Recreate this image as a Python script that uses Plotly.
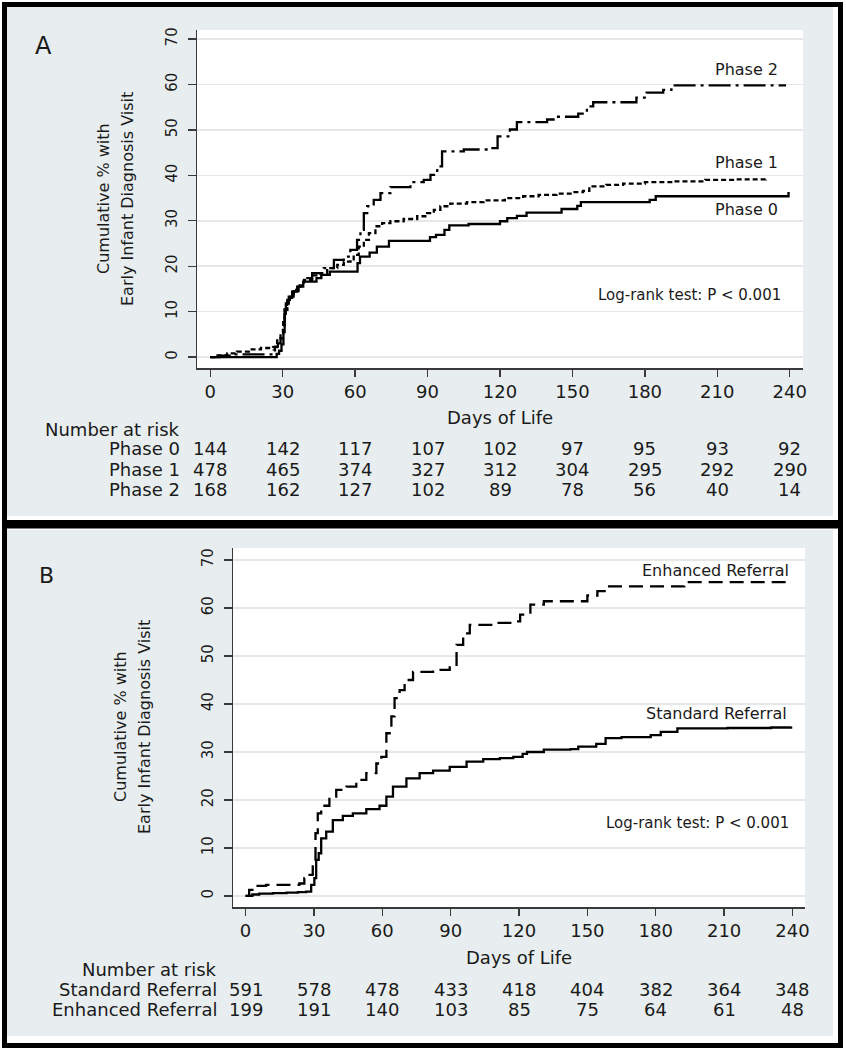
import plotly.graph_objects as go

W, H = 846, 1050
FONT = "DejaVu Sans"
TXT = "#1a1a1a"
AX = "#3a3a3a"
BG = "#e8eef0"
GRID = "#e4e8e8"

def PX(x):
    return x / W

def PY(y):
    return 1 - y / H

# ---------------- data: panel A ----------------
p0_t = [0, 27.5, 28.5, 29.5, 30.3, 30.8, 31.3, 32.5, 34.5, 36.5, 38.5, 44, 46, 49.5, 61, 62, 66, 69, 74,
        91, 93.5, 97, 99, 107, 120, 123, 127, 131, 145.5, 152, 153.5, 182, 184.5, 239.5, 240]
p0_v = [0, 0.7, 1.4, 2.8, 5.5, 9.5, 11.8, 13.3, 14.5, 15.5, 16.6, 17.4, 18.1, 18.8, 20.7, 22.1, 23.0, 24.3, 25.6,
        26.4, 26.9, 28.0, 29.0, 29.3, 29.9, 30.6, 31.1, 31.8, 32.6, 33.3, 34.1, 34.6, 35.4, 36.1, 36.1]

p1_t = [0, 3, 7, 11, 16, 21, 26, 27.7, 29.1, 30.2, 30.8, 31.9, 33, 34.6, 36.5, 38.8, 42.2, 45.7, 48.4, 52.6,
        55.3, 58.1, 59.4, 61.5, 63.6, 65.7, 68.4, 71.2, 74.6, 80.1, 85.7, 89.8, 92.6, 95.3, 99.4, 106.3, 113.2,
        122, 129.6, 136, 143.4, 150, 154.4, 157, 164, 171, 180, 191.5, 205, 218, 230]
p1_v = [0, 0.4, 0.8, 1.2, 1.7, 2.0, 2.2, 3.7, 5.2, 8.5, 10.5, 12.6, 13.8, 14.8, 15.8, 17.0, 18.0, 18.5, 19.6, 20.3,
        21.0, 21.5, 22.5, 24.3, 25.8, 27.3, 28.8, 29.5, 29.9, 30.4, 31.0, 31.7, 32.4, 33.2, 33.8, 34.1, 34.5,
        35.0, 35.4, 35.7, 36.0, 36.3, 36.6, 37.6, 37.9, 38.2, 38.5, 38.7, 39.0, 39.1, 39.2]

p2_t = [0, 4, 8, 26, 26.3, 26.8, 28, 29.1, 30.1, 30.8, 31.9, 33.9, 36, 38.8, 42.2, 47, 51.2, 55.3, 58, 60.8,
        62.2, 63.6, 65, 67.7, 70.5, 74.6, 82.9, 88.4, 91.2, 94, 96, 105, 115, 119, 124.1, 127, 139.5, 143.5,
        152.4, 156, 158.6, 176.5, 180.7, 187.6, 191, 238.5]
p2_v = [0, 0.3, 0.6, 0.6, 1.5, 2.3, 3.0, 4.1, 6.0, 10.4, 12.6, 14.4, 15.5, 17.4, 18.5, 19.6, 21.4, 22.1, 23.6, 25.8,
        28.0, 31.7, 33.2, 34.6, 36.1, 37.4, 38.5, 39.0, 40.1, 42.0, 45.3, 45.7, 46.0, 48.6, 50.1, 51.7, 52.3, 52.9,
        53.6, 55.2, 56.1, 57.1, 58.2, 58.8, 59.8, 59.8]

# ---------------- data: panel B ----------------
std_t = [0, 3, 6, 12, 18, 23, 26.6, 28.8, 30.2, 31, 32.1, 33.2, 35.4, 38.3, 42.7, 47.1, 53, 58.8, 61.8, 64.7,
         70.6, 76.4, 82.3, 89.6, 97, 104.3, 111.6, 117.5, 121.6, 123.5, 130.9, 142.6, 146, 153.9, 158, 165,
         177.8, 182.2, 189.5, 211.5, 230.6, 239.4]
std_v = [0, 0.3, 0.5, 0.6, 0.7, 0.8, 0.9, 2.3, 3.7, 7.5, 8.9, 12.0, 13.4, 15.8, 16.7, 17.2, 18.1, 18.8, 20.7, 22.8,
         24.5, 25.6, 26.1, 26.9, 28.0, 28.5, 28.7, 29.0, 29.6, 30.0, 30.5, 30.6, 31.1, 31.7, 32.9, 33.1,
         33.5, 34.2, 34.9, 35.0, 35.1, 35.3]

enh_t = [0, 1.6, 4.5, 9, 23.6, 25.8, 27.3, 29.5, 30.7, 31.7, 33.2, 36.8, 39.8, 44.2, 48.6, 53, 57.4, 59.6, 61.8,
         64, 65.4, 67.6, 69.8, 73.5, 82.3, 89.6, 92.6, 95.5, 98.4, 108.7, 119, 120.5, 125, 130.9, 150, 154.4,
         158.7, 192.5, 239.4]
enh_v = [0, 1.25, 2.1, 2.3, 2.6, 3.7, 4.4, 7.5, 13.1, 17.2, 18.8, 20.7, 22.1, 22.8, 24.2, 25.6, 27.6, 29.0, 33.9,
         37.4, 41.2, 42.9, 45.0, 46.7, 47.1, 47.9, 52.3, 54.7, 56.5, 56.9, 57.2, 58.6, 60.7, 61.4, 62.6, 63.5,
         64.5, 65.4, 65.4]

# ---------------- ticks and risk tables ----------------
x_ticks = [0, 30, 60, 90, 120, 150, 180, 210, 240]
y_ticks = [0, 10, 20, 30, 40, 50, 60, 70]

risk_a_labels = ["Phase 0", "Phase 1", "Phase 2"]
risk_a = [
    [144, 142, 117, 107, 102, 97, 95, 93, 92],
    [478, 465, 374, 327, 312, 304, 295, 292, 290],
    [168, 162, 127, 102, 89, 78, 56, 40, 14],
]
risk_b_labels = ["Standard Referral", "Enhanced Referral"]
risk_b = [
    [591, 578, 478, 433, 418, 404, 382, 364, 348],
    [199, 191, 140, 103, 85, 75, 64, 61, 48],
]

fig = go.Figure()

LW = 2.3
fig.add_trace(go.Scatter(x=p0_t, y=p0_v, mode="lines", line=dict(color="black", width=LW, shape="hv"),
                         xaxis="x", yaxis="y", name="Phase 0"))
fig.add_trace(go.Scatter(x=p1_t, y=p1_v, mode="lines",
                         line=dict(color="black", width=LW, shape="hv", dash="5px,3px"),
                         xaxis="x", yaxis="y", name="Phase 1"))
fig.add_trace(go.Scatter(x=p2_t, y=p2_v, mode="lines",
                         line=dict(color="black", width=LW, shape="hv", dash="22px,5px,3px,5px"),
                         xaxis="x", yaxis="y", name="Phase 2"))
fig.add_trace(go.Scatter(x=std_t, y=std_v, mode="lines", line=dict(color="black", width=LW, shape="hv"),
                         xaxis="x2", yaxis="y2", name="Standard Referral"))
fig.add_trace(go.Scatter(x=enh_t, y=enh_v, mode="lines",
                         line=dict(color="black", width=LW, shape="hv", dash="14px,7px"),
                         xaxis="x2", yaxis="y2", name="Enhanced Referral"))

def xaxis_cfg(domain, anchor):
    return dict(domain=domain, anchor=anchor, range=[-5.5, 245.5], tickvals=x_ticks,
                ticks="outside", ticklen=7, tickwidth=1.3, tickcolor=AX,
                showline=True, linecolor=AX, linewidth=1.5, showgrid=False, zeroline=False,
                tickfont=dict(family=FONT, size=18, color=TXT), fixedrange=True, automargin=False)

def yaxis_cfg(domain, anchor, rng):
    return dict(domain=domain, anchor=anchor, range=rng, tickvals=y_ticks, tickangle=-90,
                ticks="outside", ticklen=8, tickwidth=1.3, tickcolor=AX,
                showline=True, linecolor=AX, linewidth=1.5, showgrid=True, gridcolor=GRID,
                gridwidth=1.5, zeroline=False, ticklabelstandoff=5,
                tickfont=dict(family=FONT, size=15, color=TXT), fixedrange=True, automargin=False)

fig.update_layout(
    width=W, height=H, margin=dict(l=0, r=0, t=0, b=0, pad=0),
    paper_bgcolor="white", plot_bgcolor="white", showlegend=False,
    xaxis=xaxis_cfg([PX(197), PX(803)], "y"),
    yaxis=yaxis_cfg([PY(368), PY(30)], "x", [-2.4, 72]),
    xaxis2=xaxis_cfg([PX(233), PX(805)], "y2"),
    yaxis2=yaxis_cfg([PY(907), PY(548)], "x2", [-2.3, 72.5]),
)

shapes = []
# gray graph regions
for (x0, y0, x1, y1) in [(7, 7, 833, 516), (7, 530, 833, 1036)]:
    shapes.append(dict(type="rect", xref="paper", yref="paper", x0=PX(x0), x1=PX(x1), y0=PY(y1), y1=PY(y0),
                       fillcolor=BG, line=dict(width=0), layer="below"))
# white plot regions
for (x0, y0, x1, y1) in [(197, 30, 803, 368), (233, 548, 805, 907)]:
    shapes.append(dict(type="rect", xref="paper", yref="paper", x0=PX(x0), x1=PX(x1), y0=PY(y1), y1=PY(y0),
                       fillcolor="white", line=dict(width=0), layer="below"))
# black frames
for (x0, y0, x1, y1) in [(4.5, 4.5, 840.5, 522.5), (4.5, 526, 840.5, 1045.5)]:
    shapes.append(dict(type="rect", xref="paper", yref="paper", x0=PX(x0), x1=PX(x1), y0=PY(y1), y1=PY(y0),
                       fillcolor="rgba(0,0,0,0)", line=dict(color="black", width=5), layer="above"))
fig.update_layout(shapes=shapes)

ann = []

def text(x, y, s, size, xanchor="center", angle=0, xref="paper"):
    ann.append(dict(x=x if xref != "paper" else PX(x), y=PY(y), xref=xref, yref="paper", text=s,
                    showarrow=False, xanchor=xanchor, yanchor="middle", textangle=angle,
                    font=dict(family=FONT, size=size, color=TXT)))

# panel letters
text(43, 46, "A", 24)
text(46, 575, "B", 22)

# y titles
text(103, 199, "Cumulative % with", 16, angle=-90)
text(127, 199, "Early Infant Diagnosis Visit", 16, angle=-90)
text(120, 727, "Cumulative % with", 16, angle=-90)
text(144, 727, "Early Infant Diagnosis Visit", 16, angle=-90)

# x titles
text(500, 418, "Days of Life", 18)
text(519, 957, "Days of Life", 18)

# curve labels
text(780, 69, "Phase 2", 16, xanchor="right")
text(780, 163, "Phase 1", 16, xanchor="right")
text(780, 210, "Phase 0", 16, xanchor="right")
text(783, 295, "Log-rank test: P &lt; 0.001", 15, xanchor="right")
text(791, 570, "Enhanced Referral", 16, xanchor="right")
text(789, 713, "Standard Referral", 16, xanchor="right")
text(791, 823, "Log-rank test: P &lt; 0.001", 15, xanchor="right")

# number at risk tables
text(182, 429, "Number at risk", 18, xanchor="right")
for i, (lab, row) in enumerate(zip(risk_a_labels, risk_a)):
    yy = 449 + 20 * i
    text(182, yy, lab, 18, xanchor="right")
    for t, n in zip(x_ticks, row):
        text(t, yy, str(n), 18, xref="x")

text(219, 969, "Number at risk", 18, xanchor="right")
for i, (lab, row) in enumerate(zip(risk_b_labels, risk_b)):
    yy = 989 + 20 * i
    text(219, yy, lab, 18, xanchor="right")
    for t, n in zip(x_ticks, row):
        text(t, yy, str(n), 18, xref="x2")

fig.update_layout(annotations=ann)

fig.write_html(
    "out.html",
    config={"displayModeBar": False, "staticPlot": True},
    post_script="document.body.style.margin='0';document.body.style.overflow='hidden';",
)
